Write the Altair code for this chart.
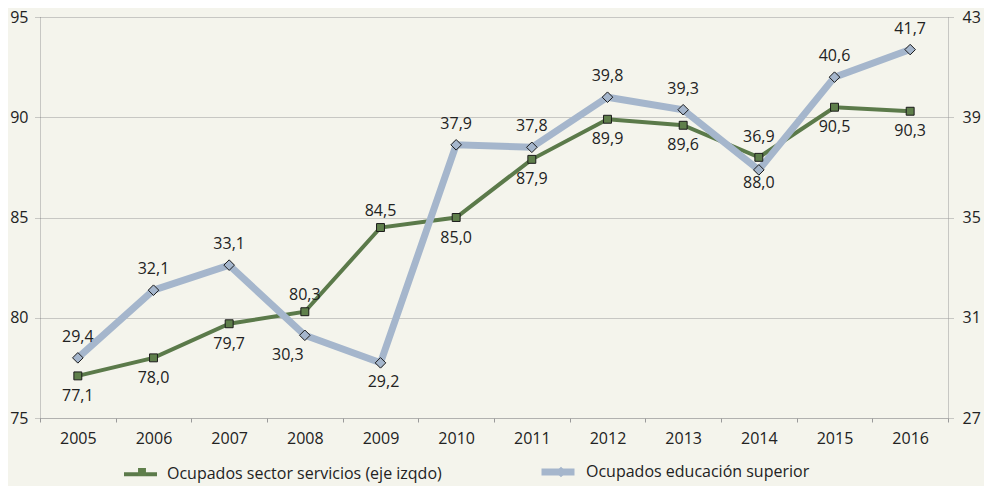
import altair as alt
import pandas as pd

years = ["2005", "2006", "2007", "2008", "2009", "2010",
         "2011", "2012", "2013", "2014", "2015", "2016"]
servicios = [77.1, 78.0, 79.7, 80.3, 84.5, 85.0, 87.9, 89.9, 89.6, 88.0, 90.5, 90.3]
educacion = [29.4, 32.1, 33.1, 30.3, 29.2, 37.9, 37.8, 39.8, 39.3, 36.9, 40.6, 41.7]
series_names = ["Ocupados sector servicios (eje izqdo)", "Ocupados educación superior"]
servicios_label_side = ["below", "below", "below", "above", "above", "below",
                        "below", "below", "below", "below2", "below", "below"]
educacion_label_side = ["above", "above", "above", "belowleft", "below", "above",
                        "above", "above", "above", "above2", "above", "above"]
left_ticks = [75, 80, 85, 90, 95]
right_ticks = [27, 31, 35, 39, 43]

GREEN_LINE = "#5b7a4a"
GREEN_FILL = "#5f7f4b"
BLUE = "#a5b6cc"
MARK_STROKE = "#1b1b1b"
BG = "#f4f4ec"
GRID = "#9a9a9a"
TEXT = "#222222"
FONT = "Open Sans"

SQUARE_PATH = "M-1,0L-1,0M1,0L1,0M-0.24,-0.24L0.24,-0.24L0.24,0.24L-0.24,0.24Z"
DIAMOND_PATH = "M-1,0L-1,0M1,0L1,0M0,-0.32L0.32,0L0,0.32L-0.32,0Z"

# marker legend uses the same names with a trailing space so that it stays a
# separate legend drawn on top of the line legend
point_names = [n + " " for n in series_names]


def fmt(v):
    return f"{v:.1f}".replace(".", ",")


def frame(values, sides, idx):
    return pd.DataFrame({
        "year": years,
        "value": values,
        "label": [fmt(v) for v in values],
        "side": sides,
        "series": series_names[idx],
        "series_pt": point_names[idx],
    })


df_s = frame(servicios, servicios_label_side, 0)
df_e = frame(educacion, educacion_label_side, 1)

x_enc = alt.X(
    "year:O", sort=years, title=None,
    scale=alt.Scale(type="band", paddingInner=0, paddingOuter=0),
    axis=alt.Axis(labelAngle=0, tickBand="extent", tickSize=4, tickColor=GRID,
                  domainColor=GRID, domainDash=[1, 1], labelPadding=8,
                  labelFontSize=16, labelColor=TEXT, labelFont=FONT),
)

scale_s = alt.Scale(domain=[75, 95], nice=False, zero=False)
scale_e = alt.Scale(domain=[27, 43], nice=False, zero=False)

axis_left = alt.Axis(orient="left", values=left_ticks, grid=True, gridDash=[1, 1],
                     gridColor=GRID, tickSize=5, tickColor=GRID, tickDash=[1, 1],
                     domainColor=GRID, domainDash=[1, 1], labelPadding=7,
                     labelFontSize=16, labelColor=TEXT, labelFont=FONT, title=None)
axis_right = alt.Axis(orient="right", values=right_ticks, grid=False, tickSize=5,
                      tickColor=GRID, tickDash=[1, 1], domainColor=GRID,
                      domainDash=[1, 1], labelPadding=9, labelFontSize=16,
                      labelColor=TEXT, labelFont=FONT, title=None)

legend_common = dict(orient="none", direction="horizontal",
                     title=None, symbolSize=1089, labelFontSize=16,
                     labelFont=FONT, labelColor=TEXT, labelOffset=8, labelLimit=600,
                     symbolStrokeWidth=1)
line_legend = dict(legendX=82, legendY=435, columnPadding=85, **legend_common)
pt_legend = dict(legendX=85, legendY=438, columnPadding=100, labelOpacity=0,
                 labelExpr="trim(datum.label)", symbolStrokeColor=MARK_STROKE,
                 **legend_common)

color_enc = alt.Color("series:N",
                      scale=alt.Scale(domain=series_names, range=[GREEN_LINE, BLUE]),
                      legend=alt.Legend(symbolType="stroke", **line_legend))
sw_enc = alt.StrokeWidth("series:N",
                         scale=alt.Scale(type="ordinal", domain=series_names, range=[4, 7]),
                         legend=alt.Legend(symbolType="stroke", **line_legend))

shape_enc = alt.Shape("series_pt:N",
                      scale=alt.Scale(domain=point_names, range=[SQUARE_PATH, DIAMOND_PATH]),
                      legend=alt.Legend(**pt_legend))
fill_enc = alt.Fill("series_pt:N",
                    scale=alt.Scale(domain=point_names, range=[GREEN_FILL, BLUE]),
                    legend=alt.Legend(**pt_legend))


def line_layer(df, scale, axis):
    return alt.Chart(df).mark_line().encode(
        x=x_enc,
        y=alt.Y("value:Q", scale=scale, axis=axis),
        color=color_enc,
        strokeWidth=sw_enc,
    )


def point_layer(df, scale):
    return alt.Chart(df).mark_point(filled=True, size=1089, stroke=MARK_STROKE,
                                    strokeWidth=1, opacity=1).encode(
        x=x_enc,
        y=alt.Y("value:Q", scale=scale, axis=None),
        shape=shape_enc,
        fill=fill_enc,
    )


def text_layer(df, scale, side, dx, dy):
    return alt.Chart(df).transform_filter(alt.datum.side == side).mark_text(
        font=FONT, fontSize=16, color=TEXT, dx=dx, dy=dy, baseline="middle",
        align="center",
    ).encode(
        x=x_enc,
        y=alt.Y("value:Q", scale=scale, axis=None),
        text="label:N",
    )


layers = [
    line_layer(df_s, scale_s, axis_left),
    line_layer(df_e, scale_e, axis_right),
    point_layer(df_s, scale_s),
    point_layer(df_e, scale_e),
    text_layer(df_s, scale_s, "below", 0, 20),
    text_layer(df_s, scale_s, "above", 0, -17),
    text_layer(df_s, scale_s, "below2", 0, 26),
    text_layer(df_e, scale_e, "above", 0, -21),
    text_layer(df_e, scale_e, "below", 3, 19),
    text_layer(df_e, scale_e, "belowleft", -17, 20),
    text_layer(df_e, scale_e, "above2", 0, -33),
]

chart = alt.layer(*layers).resolve_scale(y="independent").properties(
    width=908, height=401,
    background=BG,
    padding={"left": 32, "top": 9, "right": 36, "bottom": 68},
    autosize=alt.AutoSizeParams(type="none"),
).configure_view(stroke=None)

chart.save("out.html", embed_options={"renderer": "svg", "actions": False})
